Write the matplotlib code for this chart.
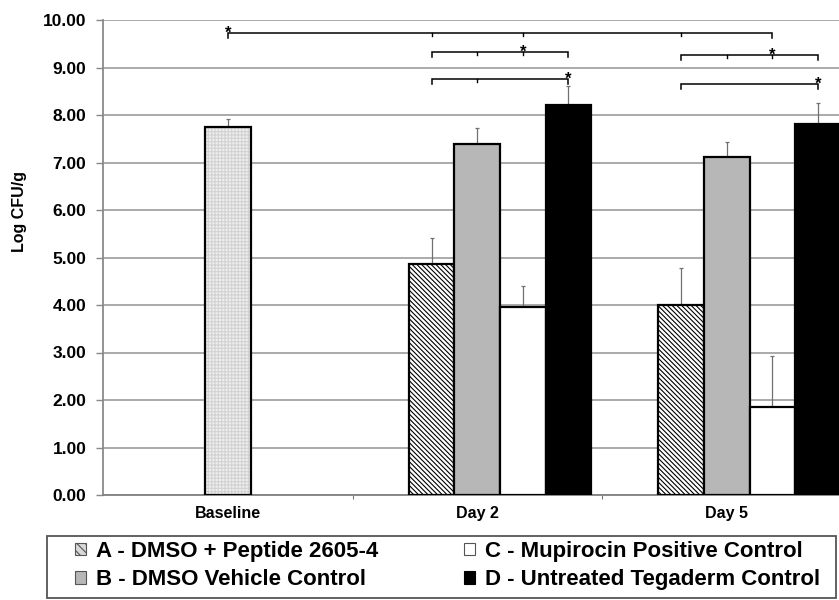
import matplotlib
matplotlib.use("Agg")
import matplotlib.pyplot as plt
from matplotlib.patches import Patch, Rectangle
import numpy as np

# ---------------- data ----------------
categories = ["Baseline", "Day 2", "Day 5"]
baseline_mean = 7.75
baseline_err = 0.17

series_labels = ["A - DMSO + Peptide 2605-4", "B - DMSO Vehicle Control",
                 "C - Mupirocin Positive Control", "D - Untreated Tegaderm Control"]
a_mean = [4.87, 4.01]
a_err = [0.55, 0.76]
b_mean = [7.39, 7.12]
b_err = [0.33, 0.32]
c_mean = [3.95, 1.85]
c_err = [0.45, 1.08]
d_mean = [8.22, 7.81]
d_err = [0.40, 0.44]

yticks = [0, 1, 2, 3, 4, 5, 6, 7, 8, 9, 10]

# significance brackets: (y level, start bar, end bar, tick bars, star bar)
# bar = (category index, slot index)
brackets = [
    (9.73, (0, 0), (2, 1), [(1, -1), (1, 1), (2, -1)], (0, 0)),
    (9.33, (1, -1), (1, 2), [(1, 0), (1, 1)], (1, 1)),
    (8.76, (1, -1), (1, 2), [(1, 0)], (1, 2)),
    (9.26, (2, -1), (2, 2), [(2, 0), (2, 1)], (2, 1)),
    (8.65, (2, -1), (2, 2), [], (2, 2)),
]

# ---------------- style ----------------
plt.rcParams['font.family'] = ['Liberation Sans', 'DejaVu Sans']
plt.rcParams['font.weight'] = 'bold'
plt.rcParams['hatch.linewidth'] = 0.8

fig = plt.figure(figsize=(8.39, 6.0), dpi=100)
W, H = 839.0, 600.0
ax = fig.add_axes([103 / W, 105 / H, 748.5 / W, 475 / H])

w = 0.1824
x = np.arange(len(categories))
day_x = x[1:]

def bx(bar):
    c, s = bar
    return x[c] + s * w

err_kw = dict(fmt='none', ecolor='#707070', elinewidth=0.9, capsize=1.2,
              capthick=0.9, zorder=2)

# baseline bar (dotted light fill)
ax.bar(x[0], baseline_mean, width=w, color='#efefef', edgecolor='#d2d2d2',
       hatch='+++++', linewidth=0, zorder=3)
ax.bar(x[0], baseline_mean, width=w, facecolor='none', edgecolor='black',
       linewidth=1.6, zorder=4)
ax.errorbar(x[0], baseline_mean, yerr=[[0], [baseline_err]], **err_kw)

# series A-D
specs = [
    (a_mean, a_err, -1, dict(facecolor='white', edgecolor='black', hatch='\\\\\\\\\\\\\\')),
    (b_mean, b_err, 0, dict(facecolor='#b7b7b7', edgecolor='black')),
    (c_mean, c_err, 1, dict(facecolor='white', edgecolor='black')),
    (d_mean, d_err, 2, dict(facecolor='black', edgecolor='black')),
]
for mean, err, slot, st in specs:
    xs = day_x + slot * w
    ax.errorbar(xs, mean, yerr=[np.zeros(len(err)), err], **err_kw)
    ax.bar(xs, mean, width=w, linewidth=1.6, zorder=3, **st)

# brackets
tick_long = 0.11
tick_short = 0.06
for y, start, end, ticks, star in brackets:
    x0, x1 = bx(start), bx(end)
    ax.plot([x0, x0, x1, x1], [y - tick_long, y, y, y - tick_long],
            color='black', lw=1.1, zorder=5, solid_joinstyle='miter')
    for t in ticks:
        ax.plot([bx(t), bx(t)], [y, y - tick_short], color='black', lw=1.0, zorder=5)
    ax.text(bx(star), y - 0.1, '*', ha='center', va='baseline',
            fontsize=12, fontweight='bold', zorder=6)

# axes styling
ax.set_xlim(-0.5, 2.5)
ax.set_ylim(0, 10)
ax.set_yticks(yticks)
ax.set_yticklabels([f"{v:.2f}" for v in yticks])
ax.yaxis.grid(True, color='#9c9c9c', linewidth=1.2, zorder=0)
ax.set_axisbelow(True)
ax.set_xticks(x)
ax.set_xticklabels(categories)
ax.set_xticks([0.5, 1.5], minor=True)
ax.tick_params(axis='x', which='major', length=0, pad=8, labelsize=11.5)
ax.tick_params(axis='x', which='minor', length=3, color='#777777', width=0.8)
ax.tick_params(axis='y', length=5, color='#888888', width=1.0, pad=7, labelsize=12.5)
for s in ['top', 'right']:
    ax.spines[s].set_visible(False)
ax.spines['left'].set_color('#8a8a8a')
ax.spines['left'].set_linewidth(1.3)
ax.spines['bottom'].set_color('#808080')
ax.spines['bottom'].set_linewidth(1.3)

fig.text(20 / W, 1 - 212 / H, 'Log CFU/g', rotation=90, ha='center', va='center',
         fontsize=11.5, fontweight='bold')

# legend
handles = [
    Patch(facecolor='#d8d8d8', edgecolor='#555555', hatch='\\\\\\\\', linewidth=0.8),
    Patch(facecolor='#b7b7b7', edgecolor='#555555', linewidth=0.8),
    Patch(facecolor='white', edgecolor='#555555', linewidth=0.8),
    Patch(facecolor='black', edgecolor='black', linewidth=0.8),
]
fig.legend(handles, series_labels, ncol=2, loc='upper left',
           bbox_to_anchor=(75 / W, 1 - 541 / H), frameon=False,
           handlelength=0.5, handleheight=0.5, handletextpad=0.45,
           columnspacing=3.85, labelspacing=0.32, borderpad=0, borderaxespad=0,
           prop=dict(family='Liberation Sans', weight='bold', size=16))
fig.patches.append(Rectangle((47 / W, 2 / H), 789 / W, 62 / H, transform=fig.transFigure,
                             facecolor='none', edgecolor='#555555', linewidth=1.3))

fig.savefig('out.png', dpi=100)
